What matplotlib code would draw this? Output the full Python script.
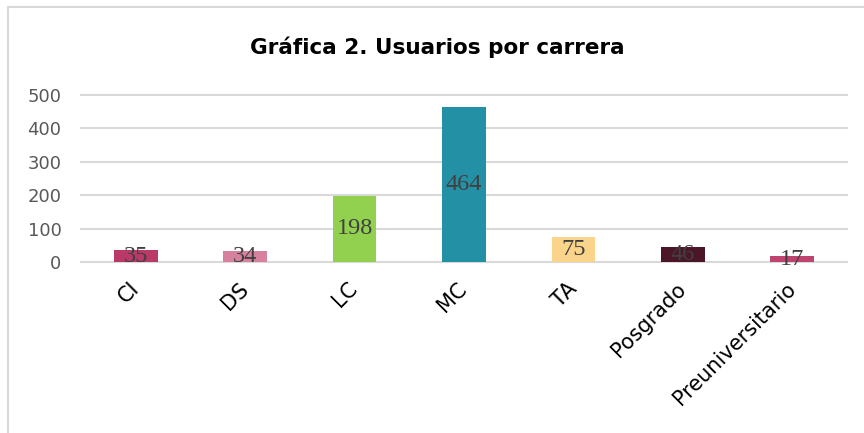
import matplotlib.pyplot as plt
from matplotlib.patches import Rectangle

carreras = ['CI', 'DS', 'LC', 'MC', 'TA', 'Posgrado', 'Preuniversitario']
usuarios = [35, 34, 198, 464, 75, 46, 17]
colores = ['#B93A68', '#D6829F', '#92D050', '#2490A6', '#FAD48A', '#4B1628', '#BE4470']
yticks = [0, 100, 200, 300, 400, 500]

fig = plt.figure(figsize=(8.64, 4.33), dpi=100)
ax = fig.add_axes([81/864, 1-262/433, (847-81)/864, (262-95)/433])

# marco del gráfico
fig.patches.append(Rectangle((8/864, -0.1), 1.2, 1.1-7/433, transform=fig.transFigure,
                             fill=False, edgecolor='#D9D9D9', lw=1.5))

x = range(len(carreras))
ax.bar(x, usuarios, width=0.4, color=colores, zorder=3)
for i, v in enumerate(usuarios):
    ax.text(i, v/2, str(v), ha='center', va='center', fontsize=17.5,
            family='Liberation Serif', color='#404040', zorder=4)

ax.set_xlim(-0.5, len(carreras)-0.5)
ax.set_ylim(0, 500)
ax.set_yticks(yticks)
ax.yaxis.grid(True, color='#D9D9D9', lw=1.5, zorder=0)
for l in ax.get_ygridlines():
    l.set_clip_on(False)
for s in ax.spines.values():
    s.set_visible(False)
ax.tick_params(axis='y', length=0, pad=14, labelsize=13, labelcolor='#595959')
ax.tick_params(axis='x', length=0, pad=17, labelsize=15, labelcolor='black')
ax.set_xticks(list(x))
ax.set_xticklabels(carreras, rotation=45, ha='right', va='center', rotation_mode='anchor')

fig.text(437/864, 1-54/433, 'Gráfica 2. Usuarios por carrera', ha='center', va='baseline',
         fontsize=15.5, fontweight='bold', color='black')

fig.savefig('out.png', dpi=100)
